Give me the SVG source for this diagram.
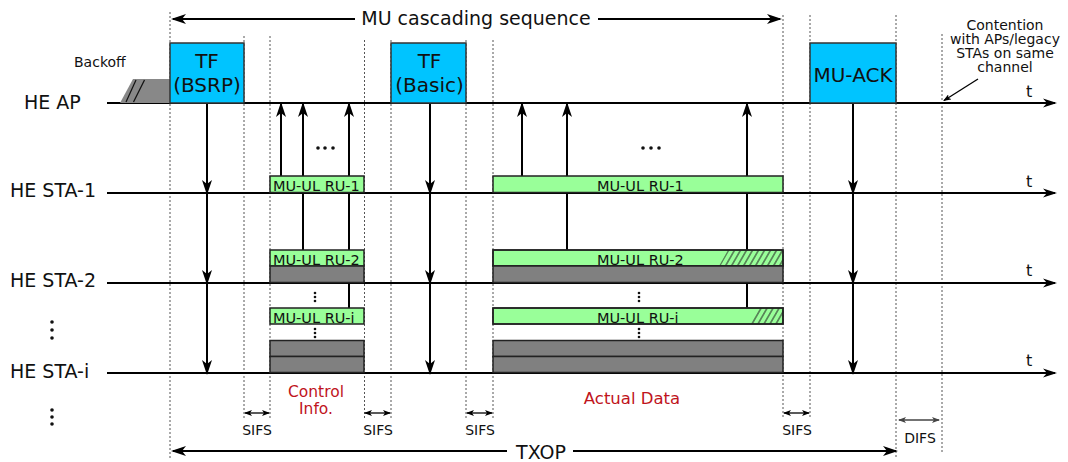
<svg xmlns="http://www.w3.org/2000/svg" width="1068" height="462" viewBox="0 0 1068 462">
<defs>
<style>
text{font-family:"DejaVu Sans",Verdana,sans-serif;fill:#111}
.lbl{font-size:19px}
.tf{font-size:20px;text-anchor:middle}
.ru{font-size:14.5px}
.sm{font-size:14px;text-anchor:middle}
.red{font-size:15.5px;fill:#C0141C;text-anchor:middle}
.t{font-size:16px}
.tl{stroke:#000;stroke-width:2;fill:none}
.ar{stroke:#000;stroke-width:2;fill:none}
.thin{stroke:#000;stroke-width:1.3;fill:none}
.dot{stroke:#555;stroke-width:1;stroke-dasharray:2 2;fill:none}
.blue{fill:#00C4FF;stroke:#333;stroke-width:1.5}
.green{fill:#99FF99;stroke:#222;stroke-width:1.5}
.gray{fill:#808080;stroke:#222;stroke-width:1.5}
.outline{fill:none;stroke:#222;stroke-width:1.5}
</style>
<marker id="ah" markerUnits="userSpaceOnUse" markerWidth="15" markerHeight="10" viewBox="0 0 15 10" refX="13" refY="5" orient="auto-start-reverse"><path d="M0,0 L15,5 L0,10 L4,5 z" fill="#000"/></marker>
<marker id="aht" markerUnits="userSpaceOnUse" markerWidth="14" markerHeight="10" viewBox="0 0 14 10" refX="12" refY="5" orient="auto"><path d="M0,0.5 L14,5 L0,9.5 L4,5 z" fill="#000"/></marker>
<marker id="as" markerUnits="userSpaceOnUse" markerWidth="8" markerHeight="6" viewBox="0 0 8 6" refX="7" refY="3" orient="auto-start-reverse"><path d="M0,0 L8,3 L0,6 L2,3 z" fill="#000"/></marker>
<marker id="asg" markerUnits="userSpaceOnUse" markerWidth="8" markerHeight="6" viewBox="0 0 8 6" refX="7" refY="3" orient="auto-start-reverse"><path d="M0,0 L8,3 L0,6 L2,3 z" fill="#444"/></marker>
<pattern id="hatch" patternUnits="userSpaceOnUse" width="6" height="16" patternTransform="skewX(-30)"><line x1="3" y1="-1" x2="3" y2="17" stroke="#222" stroke-width="1.1"/></pattern>
</defs>
<rect width="1068" height="462" fill="#fff"/>

<g id="guides">
<line class="dot" x1="170" y1="12" x2="170" y2="459"/>
<line class="dot" x1="244" y1="36" x2="244" y2="420"/>
<line class="dot" x1="270" y1="36" x2="270" y2="420"/>
<line class="dot" x1="364.5" y1="40" x2="364.5" y2="419"/>
<line class="dot" x1="391" y1="40" x2="391" y2="419"/>
<line class="dot" x1="466" y1="40" x2="466" y2="419"/>
<line class="dot" x1="493" y1="40" x2="493" y2="419"/>
<line class="dot" x1="783" y1="15" x2="783" y2="419"/>
<line class="dot" x1="810" y1="15" x2="810" y2="419"/>
<line class="dot" x1="896" y1="15" x2="896" y2="457"/>
<line class="dot" x1="942" y1="34" x2="942" y2="454"/>
</g>

<g id="timelines">
<line class="tl" x1="107" y1="103" x2="1055" y2="103" marker-end="url(#aht)"/>
<line class="tl" x1="107" y1="193" x2="1055" y2="193" marker-end="url(#aht)"/>
<line class="tl" x1="107" y1="283" x2="1055" y2="283" marker-end="url(#aht)"/>
<line class="tl" x1="107" y1="373" x2="1055" y2="373" marker-end="url(#aht)"/>
<text class="lbl" x="24" y="109">HE AP</text>
<text class="lbl" x="10" y="197">HE STA-1</text>
<text class="lbl" x="10" y="287">HE STA-2</text>
<text class="lbl" x="10" y="378">HE STA-i</text>
<text class="t" x="1026" y="97">t</text>
<text class="t" x="1026" y="187">t</text>
<text class="t" x="1026" y="276">t</text>
<text class="t" x="1026" y="366">t</text>
<g fill="#111">
<circle cx="52" cy="322" r="1.8"/><circle cx="52" cy="330" r="1.8"/><circle cx="52" cy="338" r="1.8"/>
<circle cx="52" cy="410" r="1.8"/><circle cx="52" cy="417" r="1.8"/><circle cx="52" cy="424" r="1.8"/>
</g>
</g>

<g id="connectors">
<line class="ar" x1="207" y1="103" x2="207" y2="193" marker-end="url(#ah)"/>
<line class="ar" x1="207" y1="193" x2="207" y2="283" marker-end="url(#ah)"/>
<line class="ar" x1="207" y1="283" x2="207" y2="373" marker-end="url(#ah)"/>
<line class="ar" x1="430" y1="103" x2="430" y2="193" marker-end="url(#ah)"/>
<line class="ar" x1="430" y1="193" x2="430" y2="283" marker-end="url(#ah)"/>
<line class="ar" x1="430" y1="283" x2="430" y2="373" marker-end="url(#ah)"/>
<line class="ar" x1="853" y1="103" x2="853" y2="193" marker-end="url(#ah)"/>
<line class="ar" x1="853" y1="193" x2="853" y2="283" marker-end="url(#ah)"/>
<line class="ar" x1="853" y1="283" x2="853" y2="373" marker-end="url(#ah)"/>
<line class="ar" x1="281" y1="177" x2="281" y2="104" marker-end="url(#ah)"/>
<line class="ar" x1="303" y1="251" x2="303" y2="104" marker-end="url(#ah)"/>
<line class="ar" x1="349" y1="309" x2="349" y2="104" marker-end="url(#ah)"/>
<line class="ar" x1="522" y1="177" x2="522" y2="104" marker-end="url(#ah)"/>
<line class="ar" x1="567" y1="251" x2="567" y2="104" marker-end="url(#ah)"/>
<line class="ar" x1="747" y1="309" x2="747" y2="104" marker-end="url(#ah)"/>
<line class="ar" x1="355" y1="19" x2="173" y2="19" marker-end="url(#ah)"/>
<line class="ar" x1="598" y1="19" x2="780" y2="19" marker-end="url(#ah)"/>
<line class="ar" x1="507" y1="451" x2="173" y2="451" marker-end="url(#ah)"/>
<line class="ar" x1="573" y1="451" x2="896" y2="451" marker-end="url(#ah)"/>
<line class="thin" x1="245" y1="413" x2="269" y2="413" marker-start="url(#as)" marker-end="url(#as)"/>
<line class="thin" x1="365" y1="413" x2="390" y2="413" marker-start="url(#as)" marker-end="url(#as)"/>
<line class="thin" x1="467" y1="413" x2="492" y2="413" marker-start="url(#as)" marker-end="url(#as)"/>
<line class="thin" x1="784" y1="413" x2="809" y2="413" marker-start="url(#as)" marker-end="url(#as)"/>
<line x1="899" y1="420" x2="939" y2="420" stroke="#444" stroke-width="1.5" marker-start="url(#asg)" marker-end="url(#asg)"/>
<line class="thin" x1="978" y1="79" x2="944" y2="100.5" stroke-width="1.6" marker-end="url(#as)"/>
</g>

<g id="labels">
<text x="476" y="25" style="font-size:19px;text-anchor:middle">MU cascading sequence</text>
<text x="541" y="459" style="font-size:19px;text-anchor:middle">TXOP</text>
<text class="sm" x="257" y="435">SIFS</text>
<text class="sm" x="378" y="435">SIFS</text>
<text class="sm" x="480" y="435">SIFS</text>
<text class="sm" x="797" y="435">SIFS</text>
<text class="sm" x="920" y="443">DIFS</text>
<text class="red" x="316" y="397">Control</text>
<text class="red" x="316" y="414">Info.</text>
<text class="red" x="632" y="404" style="font-size:16.5px">Actual Data</text>
<text class="sm" x="1005" y="30">Contention</text>
<text class="sm" x="1005" y="44">with APs/legacy</text>
<text class="sm" x="1005" y="58">STAs on same</text>
<text class="sm" x="1005" y="72">channel</text>
</g>

<g id="backoff">
<polygon points="120,103 133,79 170,79 170,103" fill="#888"/>
<line x1="126" y1="102" x2="136" y2="80" stroke="#111" stroke-width="1.2"/>
<line x1="133.5" y1="102" x2="144.5" y2="80" stroke="#111" stroke-width="1.2"/>
<text x="74" y="67" style="font-size:14px">Backoff</text>
</g>

<g id="tf-bsrp">
<rect class="blue" x="170" y="43" width="74" height="60"/>
<text class="tf" x="207" y="68">TF</text>
<text class="tf" x="207" y="92">(BSRP)</text>
</g>

<g id="tf-basic">
<rect class="blue" x="391" y="43" width="75" height="60"/>
<text class="tf" x="429.5" y="68">TF</text>
<text class="tf" x="429.5" y="92">(Basic)</text>
</g>

<g id="mu-ack">
<rect class="blue" x="810" y="43" width="86" height="60"/>
<text class="tf" x="853" y="82">MU-ACK</text>
</g>

<g id="control-info">
<rect class="green" x="270" y="176" width="94" height="16.5"/>
<text class="ru" x="273" y="191">MU-UL RU-1</text>
<rect class="green" x="270" y="250" width="94" height="16"/>
<text class="ru" x="273" y="265">MU-UL RU-2</text>
<rect class="gray" x="270" y="266" width="94" height="16.5"/>
<rect class="green" x="270" y="308" width="94" height="16"/>
<text class="ru" x="273" y="323">MU-UL RU-i</text>
<rect class="gray" x="270" y="340.5" width="94" height="16"/>
<rect class="gray" x="270" y="356.5" width="94" height="16"/>
<g fill="#111">
<circle cx="325" cy="148" r="1.8"/><circle cx="318" cy="148" r="1.8"/><circle cx="333" cy="148" r="1.8"/>
<circle cx="315" cy="293" r="1.3"/><circle cx="315" cy="297" r="1.3"/><circle cx="315" cy="301" r="1.3"/>
<circle cx="315" cy="329" r="1.3"/><circle cx="315" cy="333" r="1.3"/><circle cx="315" cy="337" r="1.3"/>
</g>
</g>

<g id="actual-data">
<rect class="green" x="493" y="176" width="290" height="16.5"/>
<text class="ru" x="597" y="191">MU-UL RU-1</text>
<rect class="green" x="493" y="250" width="290" height="16"/>
<polygon points="719,266 728,250 783,250 783,266" fill="url(#hatch)"/>
<rect class="outline" x="493" y="250" width="290" height="16"/>
<text class="ru" x="597" y="265">MU-UL RU-2</text>
<rect class="gray" x="493" y="266" width="290" height="16.5"/>
<rect class="green" x="493" y="308" width="290" height="16"/>
<polygon points="748,324 757,308 783,308 783,324" fill="url(#hatch)"/>
<rect class="outline" x="493" y="308" width="290" height="16"/>
<text class="ru" x="597" y="323">MU-UL RU-i</text>
<rect class="gray" x="493" y="340.5" width="290" height="16"/>
<rect class="gray" x="493" y="356.5" width="290" height="16"/>
<g fill="#111">
<circle cx="643" cy="148" r="1.8"/><circle cx="651" cy="148" r="1.8"/><circle cx="659" cy="148" r="1.8"/>
<circle cx="639" cy="293" r="1.3"/><circle cx="639" cy="297" r="1.3"/><circle cx="639" cy="301" r="1.3"/>
<circle cx="639" cy="329" r="1.3"/><circle cx="639" cy="333" r="1.3"/><circle cx="639" cy="337" r="1.3"/>
</g>
</g>
</svg>
